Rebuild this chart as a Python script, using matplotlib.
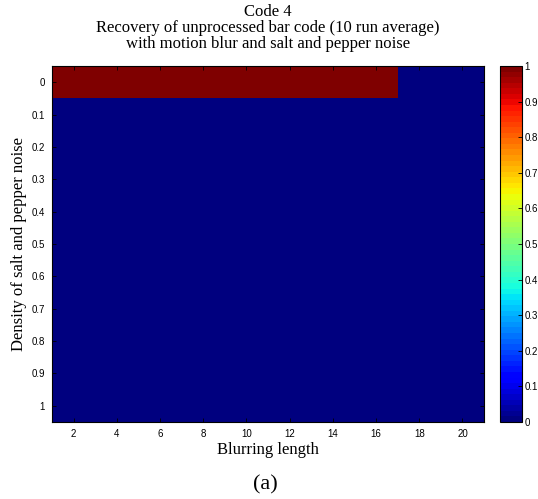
import numpy as np
import matplotlib.pyplot as plt

# blurring lengths (columns) and salt & pepper densities (rows)
blur_length = [1, 2, 3, 4, 5, 6, 7, 8, 9, 10, 11, 12, 13, 14, 15, 16, 17, 18, 19, 20]
noise_density = [0, 0.1, 0.2, 0.3, 0.4, 0.5, 0.6, 0.7, 0.8, 0.9, 1.0]

# recovery rate (10 run average), one list per noise density
rec_00 = [1, 1, 1, 1, 1, 1, 1, 1, 1, 1, 1, 1, 1, 1, 1, 1, 0, 0, 0, 0]
rec_01 = [0] * 20
rec_02 = [0] * 20
rec_03 = [0] * 20
rec_04 = [0] * 20
rec_05 = [0] * 20
rec_06 = [0] * 20
rec_07 = [0] * 20
rec_08 = [0] * 20
rec_09 = [0] * 20
rec_10 = [0] * 20

recovery = np.array([rec_00, rec_01, rec_02, rec_03, rec_04, rec_05,
                     rec_06, rec_07, rec_08, rec_09, rec_10], dtype=float)

serif = ['Liberation Serif', 'DejaVu Serif']
sans = ['Liberation Sans', 'DejaVu Sans']
tick_text = ['0', '0.1', '0.2', '0.3', '0.4', '0.5',
             '0.6', '0.7', '0.8', '0.9', '1']

fig = plt.figure(figsize=(5.38, 4.99), dpi=100)
ax = fig.add_axes([0.0967, 0.1543, 0.8030, 0.7134])

dx = blur_length[1] - blur_length[0]
dy = noise_density[1] - noise_density[0]
im = ax.imshow(recovery, cmap=plt.get_cmap('jet', 64), vmin=0, vmax=1,
               aspect='auto', interpolation='nearest',
               extent=[blur_length[0], blur_length[-1] + dx,
                       noise_density[-1] + dy / 2, noise_density[0] - dy / 2])

ax.set_xticks(range(2, 21, 2))
ax.set_yticks(noise_density)
ax.set_yticklabels(tick_text)
ax.tick_params(direction='in', length=3, width=0.6, top=True, right=True,
               labelsize=7, pad=5)
for lab in ax.get_xticklabels() + ax.get_yticklabels():
    lab.set_family(sans)
for s in ax.spines.values():
    s.set_linewidth(0.8)

# three-line title, tight line spacing
title_lines = ['Code 4',
               'Recovery of unprocessed bar code (10 run average)',
               'with motion blur and salt and pepper noise']
for i, line in enumerate(title_lines):
    fig.text(0.498, 1 - (12.5 + 15.7 * i) / 499, line, family=serif,
             fontsize=12, ha='center', va='center')

ax.set_xlabel('Blurring length', family=serif, fontsize=12, labelpad=2)
ax.set_ylabel('Density of salt and pepper noise', family=serif, fontsize=12,
              labelpad=3)

cax = fig.add_axes([0.9294, 0.1543, 0.0409, 0.7134])
cb = fig.colorbar(im, cax=cax, ticks=np.linspace(0, 1, 11))
cb.ax.set_yticklabels(tick_text)
cb.ax.tick_params(direction='in', length=3, width=0.6, labelsize=7, pad=2)
for lab in cb.ax.get_yticklabels():
    lab.set_family(sans)
cb.outline.set_linewidth(0.8)

fig.text(0.493, 1 - 485 / 499, '(a)', family=serif, fontsize=16,
         ha='center', va='center')

plt.savefig('out.png', dpi=100)
